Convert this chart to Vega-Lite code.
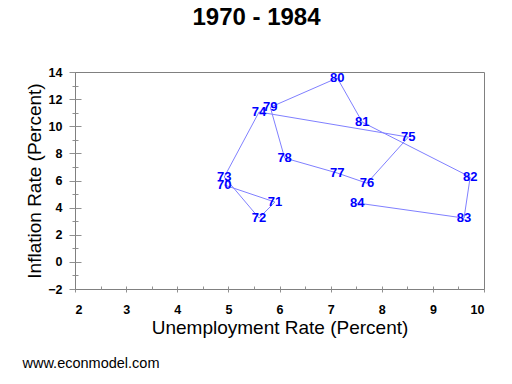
{
  "$schema": "https://vega.github.io/schema/vega-lite/v6.json",
  "width": 409,
  "height": 217,
  "autosize": {"type": "none"},
  "padding": {"left": 75, "top": 72, "right": 28, "bottom": 95},
  "background": "white",
  "title": {
    "text": "1970 - 1984",
    "font": "Liberation Sans",
    "fontSize": 24,
    "fontWeight": "bold",
    "color": "black",
    "dx": -23,
    "offset": 36
  },
  "config": {
    "view": {"stroke": "#808080", "strokeWidth": 1},
    "axis": {
      "grid": false,
      "domainColor": "#808080",
      "tickColor": "#909090",
      "labelFont": "Liberation Sans",
      "labelFontSize": 12.5,
      "labelFontWeight": "bold",
      "labelColor": "black",
      "titleFont": "Liberation Sans",
      "titleFontSize": 19,
      "titleFontWeight": "normal",
      "titleColor": "black"
    }
  },
  "data": {
    "values": [
      {"yr": 1970, "lab": "70", "u": 4.92, "i": 5.67},
      {"yr": 1971, "lab": "71", "u": 5.91, "i": 4.41},
      {"yr": 1972, "lab": "72", "u": 5.6, "i": 3.23},
      {"yr": 1973, "lab": "73", "u": 4.92, "i": 6.26},
      {"yr": 1974, "lab": "74", "u": 5.6, "i": 11.05},
      {"yr": 1975, "lab": "75", "u": 8.52, "i": 9.2},
      {"yr": 1976, "lab": "76", "u": 7.71, "i": 5.8},
      {"yr": 1977, "lab": "77", "u": 7.13, "i": 6.55},
      {"yr": 1978, "lab": "78", "u": 6.1, "i": 7.66},
      {"yr": 1979, "lab": "79", "u": 5.82, "i": 11.4},
      {"yr": 1980, "lab": "80", "u": 7.13, "i": 13.56},
      {"yr": 1981, "lab": "81", "u": 7.62, "i": 10.3},
      {"yr": 1982, "lab": "82", "u": 9.73, "i": 6.26},
      {"yr": 1983, "lab": "83", "u": 9.61, "i": 3.23},
      {"yr": 1984, "lab": "84", "u": 7.52, "i": 4.34}
    ]
  },
  "resolve": {"axis": {"x": "independent", "y": "independent"}},
  "layer": [
    {
      "mark": {"type": "line", "color": "#8080ff", "strokeWidth": 1},
      "encoding": {
        "x": {
          "field": "u",
          "type": "quantitative",
          "scale": {"domain": [2, 10], "nice": false, "zero": false},
          "axis": {
            "orient": "bottom",
            "values": [2, 2.5, 3, 3.5, 4, 4.5, 5, 5.5, 6, 6.5, 7, 7.5, 8, 8.5, 9, 9.5, 10],
            "format": "d",
            "labelExpr": "datum.value % 1 === 0 ? datum.label : ''",
            "tickSize": 3,
            "labelPadding": 11,
            "titlePadding": 3,
            "title": "Unemployment Rate (Percent)"
          }
        },
        "y": {
          "field": "i",
          "type": "quantitative",
          "scale": {"domain": [-2, 14], "nice": false, "zero": false},
          "axis": {
            "orient": "left",
            "values": [-2, -1, 0, 1, 2, 3, 4, 5, 6, 7, 8, 9, 10, 11, 12, 13, 14],
            "labelExpr": "datum.value % 2 === 0 ? datum.label : ''",
            "tickSize": {"condition": {"test": "datum.value % 2 === 0", "value": 6}, "value": 3},
            "labelPadding": 7,
            "titlePadding": 3,
            "title": "Inflation Rate (Percent)"
          }
        },
        "order": {"field": "yr", "type": "quantitative"}
      }
    },
    {
      "mark": {
        "type": "text",
        "color": "#0000ff",
        "font": "Liberation Sans",
        "fontSize": 13,
        "fontWeight": "bold",
        "align": "center",
        "baseline": "middle"
      },
      "encoding": {
        "x": {
          "field": "u",
          "type": "quantitative",
          "scale": {"domain": [2, 10], "nice": false, "zero": false},
          "axis": {
            "orient": "bottom",
            "values": [2.5, 3, 3.5, 4, 4.5, 5, 5.5, 6, 6.5, 7, 7.5, 8, 8.5, 9, 9.5],
            "domain": false,
            "labels": false,
            "tickSize": -3,
            "title": "www.econmodel.com",
            "titleFontSize": 14.5,
            "titleX": -53,
            "titleY": 78,
            "titleAlign": "left",
            "titleAnchor": "start",
            "titleBaseline": "alphabetic"
          }
        },
        "y": {
          "field": "i",
          "type": "quantitative",
          "scale": {"domain": [-2, 14], "nice": false, "zero": false},
          "axis": {
            "orient": "left",
            "values": [-1, 0, 1, 2, 3, 4, 5, 6, 7, 8, 9, 10, 11, 12, 13],
            "domain": false,
            "labels": false,
            "tickSize": {"condition": {"test": "datum.value % 2 === 0", "value": -6}, "value": -3},
            "title": null
          }
        },
        "text": {"field": "lab", "type": "nominal"}
      }
    }
  ]
}
